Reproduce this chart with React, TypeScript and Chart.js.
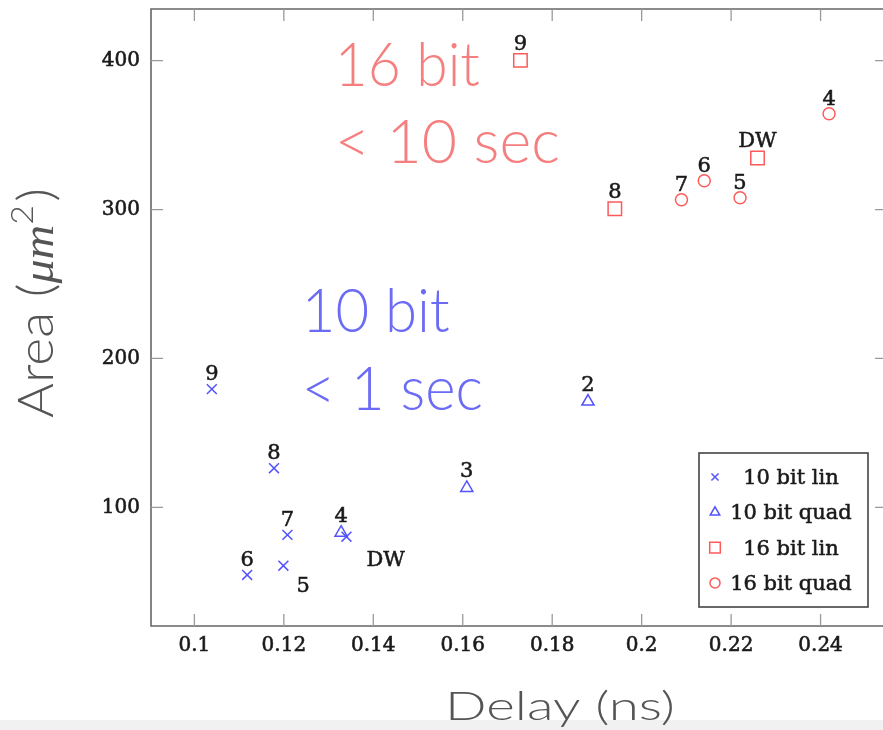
import React, { useEffect, useRef } from 'react';
import { Chart, registerables } from 'chart.js';
import { drawPoint } from 'chart.js/helpers';

Chart.register(...registerables);

// ---------- data ----------
const seriesNames = ['10 bit lin', '10 bit quad', '16 bit lin', '16 bit quad'];

const lin10X = [0.1039, 0.1178, 0.1208, 0.1118, 0.1199, 0.134];
const lin10Y = [179.4, 126.3, 81.5, 54.6, 60.8, 80.3];
const lin10Labels = ['9', '8', '7', '6', '5', 'DW'];

const quad10X = [0.1328, 0.1609, 0.188];
const quad10Y = [83, 113, 171];
const quad10Labels = ['4', '3', '2'];

const lin16X = [0.1729, 0.194, 0.2259];
const lin16Y = [400.2, 300.5, 334.6];
const lin16Labels = ['9', '8', 'DW'];

const quad16X = [0.2419, 0.2089, 0.214, 0.222];
const quad16Y = [364.4, 306.6, 319.4, 307.9];
const quad16Labels = ['4', '7', '6', '5'];

const xTicks = [0.1, 0.12, 0.14, 0.16, 0.18, 0.2, 0.22, 0.24];
const xTickLabels = ['0.1', '0.12', '0.14', '0.16', '0.18', '0.2', '0.22', '0.24'];
const yTicks = [100, 200, 300, 400];
const yTickLabels = ['100', '200', '300', '400'];
const xRange = [0.0903, 0.25396];
const yRange = [20.3, 434.7];

const noteTexts = ['16 bit', '< 10 sec', '10 bit', '< 1 sec'];
const noteX = [0.1314, 0.1314, 0.124, 0.124];
const noteY = [383.2, 331.5, 217.9, 165.5];

const xTitle = 'Delay (ns)';

// ---------- styles ----------
const BLUE = '#5252ff';
const RED = '#ff5a5a';
const PINK = '#f57f7f';
const VIOLET = '#6b6bf5';
const SERIF = '"DejaVu Serif", serif';
const INK = '#1a1a1a';

const seriesStyles = [
  { pointStyle: 'crossRot', radius: 7, color: BLUE, legendRadius: 5, labelGap: 9 },
  { pointStyle: 'triangle', radius: 7, color: BLUE, legendRadius: 5.5, labelGap: 10.5 },
  { pointStyle: 'rect', radius: 9.5, color: RED, legendRadius: 7.5, labelGap: 10.7 },
  { pointStyle: 'circle', radius: 6, color: RED, legendRadius: 5, labelGap: 9 },
];
const noteStyles = [
  { color: PINK, width: 145 },
  { color: PINK, width: 225 },
  { color: VIOLET, width: 148 },
  { color: VIOLET, width: 181 },
];
// special label placements: [dx, dy(baseline), align]
const labelPlacement: Record<string, [number, number, CanvasTextAlign]> = {
  '0:5': [13, 26, 'left'],
  '0:DW': [20, 29, 'left'],
};

const allX = [lin10X, quad10X, lin16X, quad16X];
const allY = [lin10Y, quad10Y, lin16Y, quad16Y];
const allLabels = [lin10Labels, quad10Labels, lin16Labels, quad16Labels];

function boldText(ctx: CanvasRenderingContext2D, t: string, x: number, y: number) {
  ctx.fillText(t, x, y);
  ctx.lineWidth = 0.55;
  ctx.strokeStyle = ctx.fillStyle as string;
  ctx.strokeText(t, x, y);
}

const overlayPlugin = {
  id: 'overlay',
  beforeDraw(chart: any) {
    const ctx = chart.ctx;
    ctx.save();
    ctx.fillStyle = '#ffffff';
    ctx.fillRect(0, 0, chart.width, chart.height);
    ctx.fillStyle = '#f1f1f1';
    ctx.fillRect(0, 720, chart.width, chart.height - 720);
    ctx.restore();
  },
  afterDraw(chart: any) {
    const ctx: CanvasRenderingContext2D = chart.ctx;
    const { left, right, top, bottom } = chart.chartArea;
    const xs = chart.scales.x;
    const ys = chart.scales.y;
    ctx.save();

    // frame (right side lies just beyond the picture)
    ctx.strokeStyle = '#666';
    ctx.lineWidth = 1.6;
    ctx.beginPath();
    ctx.moveTo(right + 4, top);
    ctx.lineTo(left, top);
    ctx.lineTo(left, bottom);
    ctx.lineTo(right + 4, bottom);
    ctx.stroke();

    // inward ticks on all sides
    ctx.strokeStyle = '#9a9a9a';
    ctx.lineWidth = 1.3;
    ctx.beginPath();
    xTicks.forEach((v) => {
      const px = xs.getPixelForValue(v);
      ctx.moveTo(px, bottom);
      ctx.lineTo(px, bottom - 12);
      ctx.moveTo(px, top);
      ctx.lineTo(px, top + 12);
    });
    yTicks.forEach((v) => {
      const py = ys.getPixelForValue(v);
      ctx.moveTo(left, py);
      ctx.lineTo(left + 12, py);
      ctx.moveTo(right + 2, py);
      ctx.lineTo(right - 8, py);
    });
    ctx.stroke();

    // point labels
    ctx.font = `21px ${SERIF}`;
    ctx.fillStyle = INK;
    ctx.textBaseline = 'alphabetic';
    allX.forEach((xsArr, i) => {
      xsArr.forEach((xv, j) => {
        const px = xs.getPixelForValue(xv);
        const py = ys.getPixelForValue(allY[i][j]);
        const lab = allLabels[i][j];
        const sp = labelPlacement[`${i}:${lab}`];
        if (sp) {
          ctx.textAlign = sp[2];
          boldText(ctx, lab, px + sp[0], py + sp[1]);
        } else {
          ctx.textAlign = 'center';
          boldText(ctx, lab, px, py - seriesStyles[i].labelGap);
        }
      });
    });

    // legend
    const lw = 169;
    const lh = 154;
    const lx = right - 15 - lw;
    const ly = bottom - 19 - lh;
    ctx.fillStyle = '#fff';
    ctx.fillRect(lx, ly, lw, lh);
    ctx.strokeStyle = '#444';
    ctx.lineWidth = 1.6;
    ctx.strokeRect(lx, ly, lw, lh);
    seriesNames.forEach((name, k) => {
      const ry = ly + 24 + k * 35.3;
      const st = seriesStyles[k];
      ctx.strokeStyle = st.color;
      ctx.fillStyle = 'rgba(0,0,0,0)';
      ctx.lineWidth = 1.5;
      drawPoint(ctx, { pointStyle: st.pointStyle as any, radius: st.legendRadius, rotation: 0, borderWidth: 1.5 }, lx + 16, ry);
      ctx.fillStyle = INK;
      ctx.font = `21px ${SERIF}`;
      ctx.textAlign = 'center';
      ctx.textBaseline = 'alphabetic';
      boldText(ctx, name, lx + 92, ry + 7);
    });

    // big annotations
    noteTexts.forEach((t, k) => {
      const px = xs.getPixelForValue(noteX[k]);
      const py = ys.getPixelForValue(noteY[k]);
      ctx.font = '300 62px Lato, "Open Sans", sans-serif';
      const m = ctx.measureText(t).width;
      const sx = noteStyles[k].width / m;
      ctx.save();
      ctx.translate(px, py);
      ctx.scale(sx, 1);
      ctx.fillStyle = noteStyles[k].color;
      ctx.textAlign = 'left';
      ctx.textBaseline = 'alphabetic';
      ctx.fillText(t, 0, 0);
      ctx.restore();
    });

    // x title
    ctx.save();
    ctx.font = '300 39px Lato, "Open Sans", sans-serif';
    const mw = ctx.measureText(xTitle).width;
    ctx.translate(560, 720);
    ctx.scale(230 / mw, 1);
    ctx.fillStyle = '#555';
    ctx.textAlign = 'center';
    ctx.textBaseline = 'alphabetic';
    ctx.fillText(xTitle, 0, 0);
    ctx.restore();

    // y title (rotated)
    const pieces = [
      { t: 'Area (', f: '300 49px Lato, "Open Sans", sans-serif', dy: 0 },
      { t: 'μm', f: 'italic 44px "Liberation Serif", serif', dy: 0 },
      { t: '2', f: '300 31px Lato, "Open Sans", sans-serif', dy: -20 },
      { t: ')', f: '300 49px Lato, "Open Sans", sans-serif', dy: 0 },
    ];
    let total = 0;
    const widths = pieces.map((p) => {
      ctx.font = p.f;
      const w = ctx.measureText(p.t).width + (p.t === '2' ? 3 : 0);
      total += w;
      return w;
    });
    ctx.save();
    ctx.translate(53, 303);
    ctx.rotate(-Math.PI / 2);
    ctx.scale(230 / total, 1);
    ctx.fillStyle = '#555';
    ctx.textAlign = 'left';
    ctx.textBaseline = 'alphabetic';
    let cx = -total / 2;
    pieces.forEach((p, k) => {
      ctx.font = p.f;
      ctx.fillText(p.t, cx, p.dy);
      cx += widths[k];
    });
    ctx.restore();

    ctx.restore();
  },
};

function zeroPadding(s: any) {
  s.paddingTop = 0;
  s.paddingBottom = 0;
  s.paddingLeft = 0;
  s.paddingRight = 0;
}

export default function App() {
  const ref = useRef<HTMLCanvasElement | null>(null);

  useEffect(() => {
    document.body.style.margin = '0';
    const canvas = ref.current;
    if (!canvas) return;
    const datasets = seriesNames.map((name, i) => ({
      label: name,
      data: allX[i].map((x, j) => ({ x, y: allY[i][j] })),
      pointStyle: seriesStyles[i].pointStyle as any,
      pointRadius: seriesStyles[i].radius,
      borderColor: seriesStyles[i].color,
      backgroundColor: 'rgba(0,0,0,0)',
      pointBorderWidth: 1.5,
      borderWidth: 1.5,
      showLine: false,
    }));
    const tickFont = { family: 'DejaVu Serif', size: 20 };
    const chart = new Chart(canvas, {
      type: 'scatter',
      data: { datasets },
      options: {
        responsive: false,
        animation: false,
        events: [],
        layout: { autoPadding: false, padding: { top: 9, right: 0, left: 0, bottom: 0 } },
        plugins: { legend: { display: false }, tooltip: { enabled: false } },
        scales: {
          x: {
            type: 'linear',
            min: xRange[0],
            max: xRange[1],
            grid: { display: false, drawTicks: false },
            border: { display: false },
            afterBuildTicks: (s: any) => {
              s.ticks = xTicks.map((v) => ({ value: v }));
            },
            afterFit: (s: any) => {
              s.height = 104;
              zeroPadding(s);
            },
            ticks: {
              font: tickFont,
              color: INK,
              textStrokeColor: INK,
              textStrokeWidth: 0.6,
              padding: 8,
              maxRotation: 0,
              autoSkip: false,
              callback: (v: any) => {
                const i = xTicks.findIndex((t) => Math.abs(t - Number(v)) < 1e-9);
                return i >= 0 ? xTickLabels[i] : '';
              },
            },
          },
          y: {
            type: 'linear',
            min: yRange[0],
            max: yRange[1],
            grid: { display: false, drawTicks: false },
            border: { display: false },
            afterBuildTicks: (s: any) => {
              s.ticks = yTicks.map((v) => ({ value: v }));
            },
            afterFit: (s: any) => {
              s.width = 151;
              zeroPadding(s);
            },
            ticks: {
              font: tickFont,
              color: INK,
              textStrokeColor: INK,
              textStrokeWidth: 0.6,
              padding: 11,
              autoSkip: false,
              callback: (v: any) => {
                const i = yTicks.findIndex((t) => Math.abs(t - Number(v)) < 1e-9);
                return i >= 0 ? yTickLabels[i] : '';
              },
            },
          },
        },
      },
      plugins: [overlayPlugin],
    });
    return () => chart.destroy();
  }, []);

  return (
    <canvas
      ref={ref}
      width={883}
      height={730}
      style={{ position: 'absolute', left: 0, top: 0 }}
    />
  );
}
